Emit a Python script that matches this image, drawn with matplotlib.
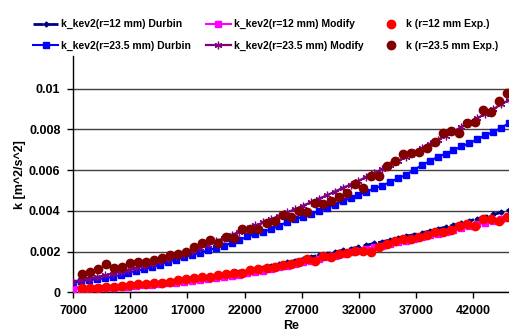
import matplotlib
matplotlib.use("Agg")
from matplotlib import pyplot as plt

plt.rcParams['font.family'] = ['Liberation Sans', 'DejaVu Sans']
plt.rcParams['font.weight'] = 'bold'

# Reynolds numbers of the model curves and of the measurements
re_model = [7000, 7690, 8390, 9080, 9770, 10470, 11160, 11850, 12540, 13240,
            13930, 14620, 15320, 16010, 16700, 17400, 18090, 18780, 19470, 20170,
            20860, 21550, 22250, 22940, 23630, 24330, 25020, 25710, 26400, 27100,
            27790, 28480, 29180, 29870, 30560, 31260, 31950, 32640, 33330, 34030,
            34720, 35410, 36110, 36800, 37490, 38190, 38880, 39570, 40260, 40960,
            41650, 42340, 43040, 43730, 44420, 45120]
re_exp = [7770, 8470, 9170, 9880, 10580, 11280, 11980, 12680, 13390, 14090,
          14790, 15490, 16190, 16900, 17600, 18300, 19000, 19700, 20410, 21110,
          21810, 22510, 23210, 23920, 24620, 25320, 26020, 26720, 27430, 28130,
          28830, 29530, 30230, 30940, 31640, 32340, 33040, 33740, 34450, 35150,
          35850, 36550, 37250, 37960, 38660, 39360, 40060, 40760, 41470, 42170,
          42870, 43570, 44270, 44980]

durbin_12 = [0.0002, 0.00022, 0.00023, 0.00025, 0.00027, 0.0003, 0.00032, 0.00035, 0.00038, 0.00042,
             0.00045, 0.00049, 0.00053, 0.00058, 0.00062, 0.00067, 0.00071, 0.00077, 0.00082, 0.00088,
             0.00093, 0.001, 0.00107, 0.00113, 0.0012, 0.00129, 0.00138, 0.00147, 0.00156, 0.00165,
             0.00173, 0.00182, 0.0019, 0.00198, 0.00206, 0.00214, 0.00222, 0.00231, 0.0024, 0.00248,
             0.00257, 0.00266, 0.00275, 0.00283, 0.00292, 0.00301, 0.00311, 0.0032, 0.00329, 0.0034,
             0.0035, 0.00361, 0.00371, 0.00382, 0.00392, 0.00403]
durbin_23 = [0.00047, 0.00055, 0.0006, 0.00064, 0.00069, 0.00076, 0.00085, 0.00096, 0.00106, 0.00114,
             0.00123, 0.00134, 0.0015, 0.00158, 0.00172, 0.00183, 0.00193, 0.00207, 0.00216, 0.00227,
             0.00243, 0.00256, 0.00274, 0.00286, 0.00297, 0.0031, 0.00326, 0.00345, 0.00358, 0.00371,
             0.00384, 0.00398, 0.00412, 0.00431, 0.00448, 0.00461, 0.00477, 0.00493, 0.0051, 0.00523,
             0.00542, 0.00559, 0.00577, 0.006, 0.00624, 0.00644, 0.00665, 0.0068, 0.00698, 0.00716,
             0.00732, 0.00751, 0.00771, 0.00787, 0.00807, 0.00831]
modify_12 = [0.00015, 0.00016, 0.00018, 0.00019, 0.00021, 0.00023, 0.00026, 0.00028, 0.00031, 0.00034,
             0.00038, 0.00041, 0.00044, 0.00048, 0.00052, 0.00056, 0.0006, 0.00065, 0.00071, 0.00076,
             0.00081, 0.00087, 0.00094, 0.001, 0.00106, 0.00114, 0.00122, 0.0013, 0.00138, 0.00147,
             0.00155, 0.00164, 0.00172, 0.0018, 0.00188, 0.00196, 0.00204, 0.00212, 0.00221, 0.00229,
             0.00237, 0.00245, 0.00254, 0.00262, 0.0027, 0.00279, 0.00288, 0.00296, 0.00305, 0.00314,
             0.00324, 0.00333, 0.00342, 0.00351, 0.00361, 0.0037]
modify_23 = [0.00052, 0.0006, 0.00067, 0.00075, 0.00083, 0.00092, 0.00101, 0.0011, 0.0012, 0.0013,
             0.00141, 0.00152, 0.00163, 0.00176, 0.0019, 0.00204, 0.00218, 0.00234, 0.0025, 0.00266,
             0.00282, 0.00297, 0.00312, 0.00328, 0.00343, 0.00359, 0.00375, 0.00392, 0.00408, 0.00425,
             0.00442, 0.00459, 0.00476, 0.00494, 0.00512, 0.00529, 0.00547, 0.00566, 0.00585, 0.00605,
             0.00624, 0.00645, 0.00665, 0.00686, 0.00706, 0.00727, 0.00748, 0.00769, 0.0079, 0.00812,
             0.00833, 0.00855, 0.00876, 0.00899, 0.00922, 0.00945]
exp_12 = [0.0002, 0.0002, 0.00023, 0.00025, 0.00028, 0.00032, 0.00036, 0.00039, 0.0004, 0.00044,
          0.00047, 0.00052, 0.0006, 0.00065, 0.00069, 0.00073, 0.00076, 0.00085, 0.00088, 0.00093,
          0.00096, 0.00109, 0.00113, 0.00118, 0.00126, 0.00132, 0.00137, 0.0015, 0.00162, 0.00155,
          0.00179, 0.00175, 0.00188, 0.00194, 0.00204, 0.00204, 0.002, 0.0022, 0.00237, 0.00251,
          0.0026, 0.00261, 0.00273, 0.0028, 0.00294, 0.00297, 0.00304, 0.00325, 0.00335, 0.00326,
          0.00358, 0.0036, 0.00351, 0.00368]
exp_23 = [0.0009, 0.00098, 0.00113, 0.00137, 0.0012, 0.00126, 0.00142, 0.00147, 0.0015, 0.00158,
          0.00167, 0.00183, 0.00188, 0.002, 0.0022, 0.0024, 0.00256, 0.00243, 0.0027, 0.00265,
          0.0031, 0.0031, 0.0031, 0.0034, 0.0035, 0.0038, 0.00368, 0.004, 0.00395, 0.0044,
          0.00432, 0.0045, 0.0047, 0.00488, 0.0053, 0.0051, 0.0057, 0.0057, 0.0062, 0.00645,
          0.00678, 0.00686, 0.0069, 0.00706, 0.0074, 0.00784, 0.0079, 0.0078, 0.00833, 0.00836,
          0.00894, 0.00885, 0.0094, 0.0098]

x_ticks = [7000, 12000, 17000, 22000, 27000, 32000, 37000, 42000]
y_ticks = [0, 0.002, 0.004, 0.006, 0.008, 0.01]
y_tick_labels = ['0', '0.002', '0.004', '0.006', '0.008', '0.01']


def main():
    fig = plt.figure(figsize=(5.10, 3.31), dpi=100)
    ax = fig.add_axes([73 / 510, 1 - 292.3 / 331, 1 - 73 / 510, (292.3 - 56) / 331])

    ax.plot(re_model, durbin_12, color='#000080', ls='--', lw=2, marker='D', ms=2.5,
            label='k_kev2(r=12 mm) Durbin', zorder=3)
    ax.plot(re_model, durbin_23, color='#0000FF', ls='-', lw=1.5, marker='s', ms=4.4,
            label='k_kev2(r=23.5 mm) Durbin', zorder=3)
    ax.plot(re_model, modify_12, color='#FF00FF', ls='-', lw=1.5, marker='s', ms=4,
            label='k_kev2(r=12 mm) Modify', zorder=3)
    ax.plot(re_model, modify_23, color='#800080', ls='-', lw=1.6, marker=(6, 2, 0), ms=5.5,
            mew=0.9, label='k_kev2(r=23.5 mm) Modify', zorder=3)
    ax.plot(re_exp, exp_12, color='#FF0000', ls='none', marker='o', ms=6,
            label='k (r=12 mm Exp.)', zorder=4)
    ax.plot(re_exp, exp_23, color='#800000', ls='none', marker='o', ms=6,
            label='k (r=23.5 mm Exp.)', zorder=4)

    ax.set_xlim(7000, 45200)
    ax.set_ylim(0, 0.0116)
    ax.set_xticks(x_ticks)
    ax.set_xticklabels([str(t) for t in x_ticks], fontsize=9, fontweight='bold')
    ax.set_yticks(y_ticks)
    ax.set_yticklabels(y_tick_labels, fontsize=9, fontweight='bold')
    ax.tick_params(axis='both', direction='out', length=4, width=1, pad=5)
    ax.yaxis.grid(True, color='#404040', lw=1)
    ax.set_axisbelow(True)
    for s in ['top', 'right']:
        ax.spines[s].set_visible(False)
    for s in ['left', 'bottom']:
        ax.spines[s].set_linewidth(1)

    ax.set_xlabel('Re', fontsize=9, fontweight='bold', labelpad=2)
    ax.set_ylabel('k [m^2/s^2]', fontsize=9, fontweight='bold', labelpad=2)

    fig.legend(loc='center left', bbox_to_anchor=(26 / 510, 1 - 35 / 331), ncol=3,
               frameon=False, handlelength=2.4, handletextpad=0.3,
               columnspacing=1.4, labelspacing=1.1, borderpad=0.2,
               prop={'weight': 'bold', 'size': 7.5})

    fig.savefig('out.png', dpi=100)


if __name__ == "__main__":
    main()
